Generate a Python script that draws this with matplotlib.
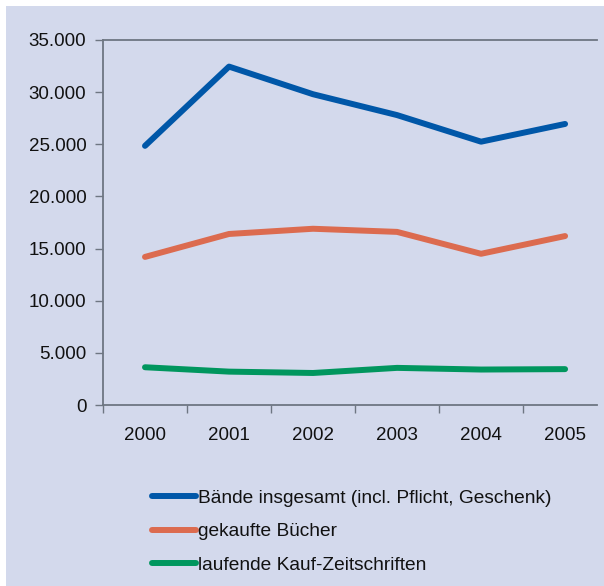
import matplotlib

matplotlib.use("Agg")
import matplotlib.pyplot as plt
from matplotlib.lines import Line2D
from matplotlib.patches import Rectangle
from matplotlib.ticker import FuncFormatter

years = ["2000", "2001", "2002", "2003", "2004", "2005"]
baende = [24850, 32450, 29800, 27800, 25250, 26950]
buecher = [14200, 16400, 16900, 16600, 14500, 16200]
zeitschriften = [3620, 3200, 3070, 3560, 3400, 3440]

labels = ["Bände insgesamt (incl. Pflicht, Geschenk)",
          "gekaufte Bücher",
          "laufende Kauf-Zeitschriften"]
colors = ["#0057A8", "#DC6B4F", "#00965E"]

BG = "#D3D9EC"
AXIS = "#6E7682"
INK = "#111111"

plt.rcParams["font.family"] = ["Liberation Sans", "DejaVu Sans"]

W, H = 604, 586
fig = plt.figure(figsize=(W / 100, H / 100), dpi=100, facecolor="white")

# lavender panel, leaving a thin white margin at top and left
fig.patches.append(Rectangle((6 / W, 0), 1 - 6 / W, 1 - 6 / H,
                             transform=fig.transFigure, facecolor=BG,
                             edgecolor="none", zorder=-10))

left, right = 103 / W, 597 / W
top, bottom = 1 - 40 / H, 1 - 405 / H
ax = fig.add_axes([left, bottom, right - left, top - bottom])
ax.set_facecolor("none")

x = range(len(years))
for vals, col in zip([baende, buecher, zeitschriften], colors):
    ax.plot(x, vals, color=col, lw=4.3, solid_capstyle="round",
            solid_joinstyle="round", zorder=3)

ax.set_xlim(-0.5, 5.38)
ax.set_ylim(0, 35000)
ax.set_yticks(range(0, 35001, 5000))
ax.yaxis.set_major_formatter(FuncFormatter(lambda v, p: f"{int(v):,}".replace(",", ".")))

# category labels centred, tick marks on the boundaries
ax.set_xticks(list(x))
ax.set_xticklabels(years)
ax.set_xticks([i - 0.5 for i in range(6)], minor=True)
ax.tick_params(axis="x", which="major", length=0, pad=16, labelsize=13.5, colors=INK)
ax.tick_params(axis="x", which="minor", length=6, width=1, color=AXIS, direction="out")
ax.tick_params(axis="y", length=6, width=1, color=AXIS, pad=6, labelsize=13.5,
               labelcolor=INK)

for side in ("left", "bottom", "top"):
    ax.spines[side].set_color(AXIS)
    ax.spines[side].set_linewidth(1.3)
ax.spines["right"].set_visible(False)

handles = [Line2D([0], [0], color=c, lw=4.3, solid_capstyle="round") for c in colors]
fig.legend(handles, labels, loc="upper left", bbox_to_anchor=(135 / W, 1 - 472 / H),
           frameon=False, fontsize=13.75, handlelength=2.3, handletextpad=0.1,
           labelspacing=0.86, labelcolor=INK)

fig.savefig("out.png", dpi=100, facecolor="white")
